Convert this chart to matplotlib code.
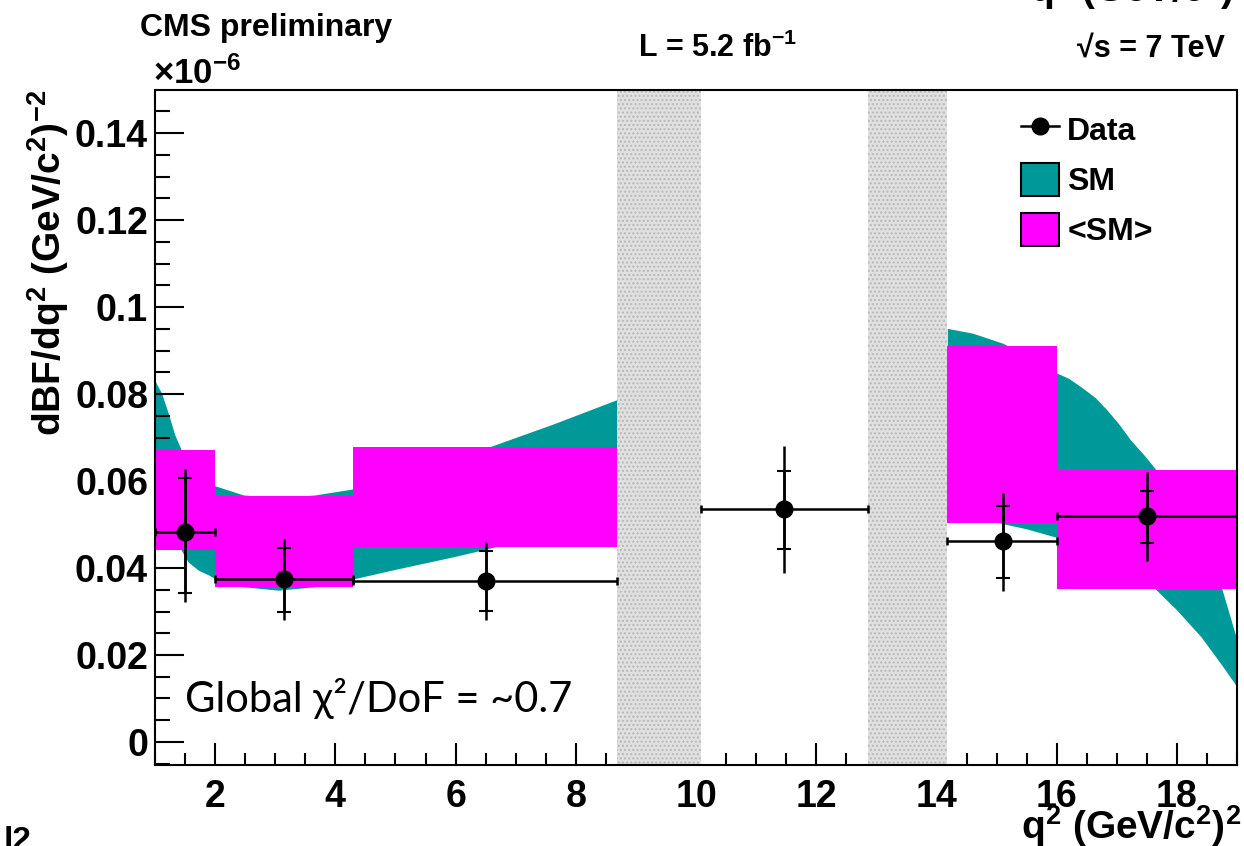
import matplotlib
matplotlib.use("Agg")
import matplotlib.pyplot as plt
from matplotlib.patches import Patch
from matplotlib.lines import Line2D
from matplotlib.ticker import MultipleLocator, FuncFormatter

# q2 bins used in the measurement
bin_lo = [1.0, 2.0, 4.3, 10.09, 14.18, 16.0]
bin_hi = [2.0, 4.3, 8.68, 12.86, 16.0, 19.0]

# measured differential branching fraction (x 1e-6)
data_x = [1.5, 3.15, 6.5, 11.47, 15.1, 17.5]
data_y = [0.0482, 0.0375, 0.0370, 0.0535, 0.0463, 0.0519]
stat_up = [0.0124, 0.0072, 0.0070, 0.0087, 0.0080, 0.0059]
stat_dn = [0.0140, 0.0076, 0.0069, 0.0091, 0.0086, 0.0061]
tot_up = [0.0145, 0.0091, 0.0089, 0.0146, 0.0110, 0.0101]
tot_dn = [0.0160, 0.0095, 0.0090, 0.0147, 0.0117, 0.0102]

# bin-averaged SM prediction (no prediction in the 10.09-12.86 bin)
avg_lo_edge = [1.0, 2.0, 4.3, 14.18, 16.0]
avg_hi_edge = [2.0, 4.3, 8.68, 16.0, 19.0]
avg_lo = [0.0441, 0.0357, 0.0449, 0.0504, 0.0351]
avg_hi = [0.0671, 0.0566, 0.0678, 0.0911, 0.0625]

# SM band below the J/psi
sm_low_q2 = [1.0, 1.11, 1.22, 1.33, 1.44, 1.55, 1.72, 1.89, 2.0, 2.47, 3.05,
             3.66, 4.3, 5.0, 6.0, 6.55, 7.64, 8.68]
sm_low_up = [0.0830, 0.0802, 0.0756, 0.0706, 0.0671, 0.0650, 0.0622, 0.0600,
             0.0589, 0.0568, 0.0562, 0.0568, 0.0582, 0.0607, 0.0652, 0.0678,
             0.0732, 0.0787]
sm_low_dn = [0.0570, 0.0530, 0.0495, 0.0465, 0.0440, 0.0414, 0.0395, 0.0384,
             0.0376, 0.0357, 0.0349, 0.0357, 0.0375, 0.0397, 0.0427, 0.0445,
             0.0483, 0.0525]

# SM band above the psi(2S)
sm_high_q2 = [14.18, 14.6, 15.1, 15.5, 15.96, 16.2, 16.4, 16.64, 16.84, 17.04,
              17.23, 17.44, 17.64, 18.0, 18.4, 18.75, 19.0]
sm_high_up = [0.0951, 0.0940, 0.0917, 0.0890, 0.0851, 0.0836, 0.0817, 0.0792,
              0.0763, 0.0730, 0.0694, 0.0662, 0.0628, 0.0555, 0.0460, 0.0351,
              0.0234]
sm_high_dn = [0.0530, 0.0519, 0.0502, 0.0490, 0.0472, 0.0460, 0.0447, 0.0433,
              0.0416, 0.0401, 0.0385, 0.0369, 0.0352, 0.0303, 0.0242, 0.0176,
              0.0127]

# charmonium veto regions
veto_lo = [8.68, 12.86]
veto_hi = [10.09, 14.18]

TEAL = "#009999"
MAGENTA = "#ff00ff"

plt.rcParams["font.family"] = ["Liberation Sans", "DejaVu Sans"]
plt.rcParams["font.weight"] = "bold"
plt.rcParams["mathtext.fontset"] = "custom"
plt.rcParams["mathtext.rm"] = "Liberation Sans:bold"
plt.rcParams["mathtext.it"] = "Liberation Sans:bold"
plt.rcParams["mathtext.bf"] = "Liberation Sans:bold"

fig = plt.figure(figsize=(12.44, 8.46), dpi=100)
ax = fig.add_axes([0.1246, 0.0957, 0.8698, 0.7979])

# SM band
ax.fill_between(sm_low_q2, sm_low_dn, sm_low_up, color=TEAL, lw=0, zorder=1)
ax.fill_between(sm_high_q2, sm_high_dn, sm_high_up, color=TEAL, lw=0, zorder=1)

# <SM> boxes
widths = [h - l for l, h in zip(avg_lo_edge, avg_hi_edge)]
heights = [h - l for l, h in zip(avg_lo, avg_hi)]
ax.bar(avg_lo_edge, heights, width=widths, bottom=avg_lo, align="edge",
       color=MAGENTA, lw=0, zorder=2)

# vetoed regions
for lo, hi in zip(veto_lo, veto_hi):
    ax.axvspan(lo, hi, facecolor="#e0e0e0", edgecolor="#b8b8b8",
               hatch="....", lw=0, zorder=3)

# data points: horizontal bin width, total and stat errors
xerr = [[x - l for x, l in zip(data_x, bin_lo)],
        [h - x for x, h in zip(data_x, bin_hi)]]
ax.errorbar(data_x, data_y, xerr=xerr, fmt="none", ecolor="black",
            elinewidth=1.8, capsize=3, capthick=1.8, zorder=4)
ax.errorbar(data_x, data_y, yerr=[tot_dn, tot_up], fmt="none", ecolor="black",
            elinewidth=1.8, capsize=0, zorder=4)
ax.errorbar(data_x, data_y, yerr=[stat_dn, stat_up], fmt="o", color="black",
            ms=12, elinewidth=1.8, capsize=5, capthick=1.5, zorder=5)

ax.set_xlim(1, 19)
ax.set_ylim(-0.0053, 0.1499)

ax.xaxis.set_major_locator(MultipleLocator(2))
ax.xaxis.set_minor_locator(MultipleLocator(0.5))
ax.yaxis.set_major_locator(MultipleLocator(0.02))
ax.yaxis.set_minor_locator(MultipleLocator(0.005))
ax.yaxis.set_major_formatter(FuncFormatter(lambda v, p: f"{v:g}"))

ax.tick_params(axis="both", which="both", direction="in", width=1.5,
               top=False, right=False, labelsize=27)
ax.tick_params(axis="y", which="major", length=21, pad=5)
ax.tick_params(axis="y", which="minor", length=11)
ax.tick_params(axis="x", which="major", length=16, pad=10)
ax.tick_params(axis="x", which="minor", length=8.5)
for lab in ax.get_xticklabels() + ax.get_yticklabels():
    lab.set_fontweight("bold")
for sp in ax.spines.values():
    sp.set_linewidth(1.5)
    sp.set_zorder(6)

ax.set_xlabel(r"q$^{2}$ (GeV/c$^{2}$)$^{2}$", fontsize=28, fontweight="bold",
              loc="right", va="baseline")
ax.xaxis.set_label_coords(1.004, -0.11)
ax.set_ylabel(r"dBF/dq$^{2}$ (GeV/c$^{2}$)$^{-2}$", fontsize=28,
              fontweight="bold", loc="top")
ax.yaxis.set_label_coords(-0.078, 1.0)

ax.text(0.0277, 0.0785, "Global χ²/DoF = ~0.7", transform=ax.transAxes,
        family=["Lato", "DejaVu Sans"], fontweight="normal", fontsize=30,
        va="baseline", ha="left")

handles = [
    Line2D([0], [0], color="black", lw=1.8, marker="o", ms=12),
    Patch(facecolor=TEAL, edgecolor="black", lw=1.5),
    Patch(facecolor=MAGENTA, edgecolor="black", lw=1.5),
]
ax.legend(handles, ["Data", "SM", "<SM>"], loc="upper left",
          bbox_to_anchor=(0.7855, 0.99), frameon=False, borderpad=0,
          prop={"family": "Liberation Sans", "weight": "bold", "size": 23},
          handlelength=1.2, handleheight=1.2, handletextpad=0.25,
          labelspacing=0.5)

# header texts
fig.text(140 / 1244, 1 - 28 / 846, "CMS preliminary", fontsize=23,
         fontweight="bold", va="center", ha="left")
fig.text(153 / 1244, 1 - 84 / 846, "×10$^{-6}$", fontsize=25,
         fontweight="bold", va="baseline", ha="left")
fig.text(638 / 1244, 1 - 57 / 846, "L = 5.2 fb$^{-1}$", fontsize=22,
         fontweight="bold", va="baseline", ha="left")
fig.text(1225 / 1244, 1 - 57 / 846, "√s = 7 TeV", fontsize=22,
         fontweight="bold", va="baseline", ha="right")
fig.text(1030 / 1244, 1 - 2 / 846, r"q$^{2}$ (GeV/c$^{2}$)", fontsize=28,
         fontweight="bold", va="baseline", ha="left")
fig.text(4 / 1244, 1 - 826 / 846, "l2", fontsize=24, fontweight="bold",
         va="top", ha="left")

fig.savefig("out.png", dpi=100)
